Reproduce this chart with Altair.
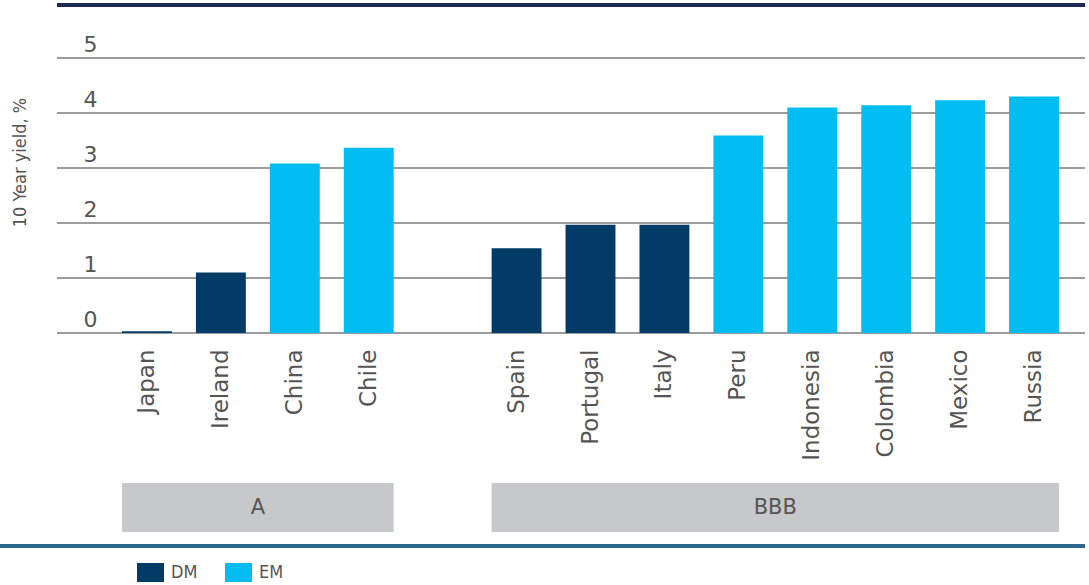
import altair as alt
import pandas as pd

countries = ["Japan", "Ireland", "China", "Chile", "Spain", "Portugal", "Italy",
             "Peru", "Indonesia", "Colombia", "Mexico", "Russia"]
yields = [0.03, 1.10, 3.08, 3.37, 1.54, 1.97, 1.97, 3.59, 4.10, 4.14, 4.23, 4.30]
market = ["DM", "DM", "EM", "EM", "DM", "DM", "DM", "EM", "EM", "EM", "EM", "EM"]

order = ["Japan", "Ireland", "China", "Chile", " ", "Spain", "Portugal", "Italy",
         "Peru", "Indonesia", "Colombia", "Mexico", "Russia"]

group_names = ["A", "BBB"]
group_start = ["Japan", "Spain"]
group_end = ["Chile", "Russia"]
group_mid = ["Ireland", "Peru"]

y_ticks = [0, 1, 2, 3, 4, 5]

DM_COLOR = "#023c66"
EM_COLOR = "#02bdf2"
TEXT = "#555555"
NARROW = "'DejaVu Sans Condensed', 'Liberation Sans Narrow', 'Roboto Condensed', 'Roboto', sans-serif"
W, H = 1028, 330

bars_df = pd.DataFrame({"country": countries, "value": yields, "type": market})
groups_df = pd.DataFrame({"group": group_names, "start": group_start,
                          "end": group_end, "mid": group_mid})
ticks_df = pd.DataFrame({"tick": y_ticks})

xscale = alt.Scale(domain=order, range=[53, 1014], paddingInner=0.325, paddingOuter=0.1625)
yscale = alt.Scale(domain=[0, 6], nice=False)

x_axis = alt.Axis(title=None, labelAngle=-90, labelAlign="right",
                  labelBaseline="middle", labelPadding=16, domain=False,
                  ticks=False, grid=False, labelFont="DejaVu Sans",
                  labelFontSize=23, labelColor=TEXT)
y_axis = alt.Axis(values=y_ticks, title="10 Year yield, %", domain=False,
                  ticks=False, tickSize=0, labelAlign="left", labelPadding=-26,
                  labelBaseline="alphabetic", labelOffset=-7,
                  labelFont="DejaVu Sans", labelFontSize=22, labelColor=TEXT,
                  grid=False,
                  titleFont=NARROW, titleFontSize=18,
                  titleColor=TEXT, titleFontWeight="normal",
                  titleX=-37, titleY=159, titleAngle=270,
                  titleBaseline="middle", titleAlign="center")

grid = alt.Chart(ticks_df).mark_rule(color="#7b7b7b", strokeWidth=1.6).encode(
    y=alt.Y("tick:Q", scale=yscale, axis=y_axis),
    x=alt.value(0), x2=alt.value(W),
)

bars = alt.Chart(bars_df).mark_bar().encode(
    x=alt.X("country:N", sort=order, scale=xscale, axis=x_axis),
    y=alt.Y("value:Q", scale=yscale, axis=y_axis),
    color=alt.Color("type:N",
                    scale=alt.Scale(domain=["DM", "EM"], range=[DM_COLOR, EM_COLOR]),
                    legend=alt.Legend(title=None, orient="none", direction="horizontal",
                                      legendX=84, legendY=560, padding=0,
                                      symbolType="M-1.42,-1H1.42V1H-1.42Z",
                                      symbolSize=361, symbolStrokeWidth=0,
                                      symbolOpacity=1,
                                      labelFont=NARROW,
                                      labelFontSize=18, labelColor=TEXT,
                                      labelOffset=11, columnPadding=27)),
)

boxes = alt.Chart(groups_df).mark_rect(color="#c7c8ca").encode(
    x=alt.X("start:N", sort=order, scale=xscale, bandPosition=0, axis=x_axis),
    x2=alt.X2("end:N", bandPosition=1),
    y=alt.value(480),
    y2=alt.value(529),
)

box_text = alt.Chart(groups_df).mark_text(
    font="DejaVu Sans", fontSize=21, color=TEXT, baseline="middle", align="center", dx=12
).encode(
    x=alt.X("mid:N", sort=order, scale=xscale, bandPosition=1, axis=x_axis),
    y=alt.value(505),
    text="group:N",
)

top_line = alt.Chart(bars_df).mark_rule(color="#1c2b55", strokeWidth=3).encode(
    x=alt.value(0), x2=alt.value(W), y=alt.value(2)
)
bottom_line = alt.Chart(bars_df).mark_rule(color="#2f668f", strokeWidth=3).encode(
    x=alt.value(-57), x2=alt.value(W), y=alt.value(543)
)

chart = alt.layer(grid, bars, boxes, box_text, top_line, bottom_line).properties(
    width=W, height=H,
    autosize=alt.AutoSizeParams(type="none"),
    padding={"left": 57, "top": 3, "right": 4, "bottom": 252},
).configure_view(stroke=None)

chart.save("out.html", embed_options={"renderer": "svg", "actions": False})
